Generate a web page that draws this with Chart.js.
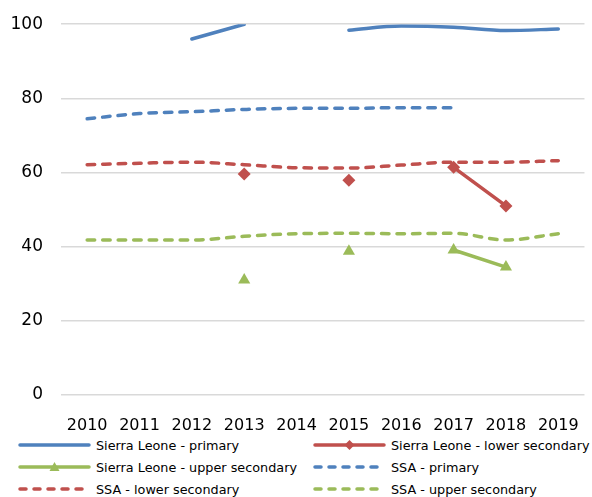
<!DOCTYPE html>
<html lang="en">
<head>
<meta charset="UTF-8">
<title>Sierra Leone vs SSA</title>
<style>
  body { margin: 0; background: #fff; }
  #wrap { position: relative; width: 592px; height: 497px; overflow: hidden; }
  #box { position: absolute; left: 0; top: -4px; width: 592px; height: 437px; }
  .leg { position: absolute; font-family: "DejaVu Sans", sans-serif; font-size: 12.8px; color: #000; white-space: nowrap; display: flex; align-items: center; }
  .leg canvas { margin-right: 5px; }
</style>
</head>
<body>
<div id="wrap">
  <div id="box"><canvas id="myChart"></canvas></div>
  <div id="legend"></div>
</div>

<script src="https://cdn.jsdelivr.net/npm/chart.js"></script>
<script>
  // data
  let v_years = ["2010", "2011", "2012", "2013", "2014", "2015", "2016", "2017", "2018", "2019"];

  let v_slPrimary = [null, null, 96.0, 100.0, null, 98.4, 99.5, 99.2, 98.3, 98.7];
  let v_slLower   = [null, null, null, 59.6, null, 57.9, null, 61.4, 51.0, null];
  let v_slUpper   = [null, null, null, 31.0, null, 38.8, null, 39.1, 34.5, null];
  let v_ssaPrimary = [74.5, 75.9, 76.4, 77.0, 77.3, 77.3, 77.5, 77.5, null, null];
  let v_ssaLower   = [62.1, 62.5, 62.8, 62.1, 61.3, 61.2, 62.0, 62.8, 62.8, 63.2];
  let v_ssaUpper   = [41.8, 41.8, 41.8, 42.8, 43.5, 43.6, 43.5, 43.6, 41.8, 43.5];

  const blue = "#4F81BD";
  const red = "#C0504D";
  const green = "#9BBB59";
  const dash = [7.5, 8];

  let v_datasets = [
    { label: "Sierra Leone - primary", data: v_slPrimary, borderColor: blue, backgroundColor: blue,
      pointRadius: 0, cubicInterpolationMode: "monotone" },
    { label: "Sierra Leone - lower secondary", data: v_slLower, borderColor: red, backgroundColor: red,
      pointStyle: "rectRot", pointRadius: 6.5, tension: 0 },
    { label: "Sierra Leone - upper secondary", data: v_slUpper, borderColor: green, backgroundColor: green,
      pointStyle: "triangle", pointRadius: 7, tension: 0 },
    { label: "SSA - primary", data: v_ssaPrimary, borderColor: blue, backgroundColor: blue,
      borderDash: dash, pointRadius: 0, cubicInterpolationMode: "monotone" },
    { label: "SSA - lower secondary", data: v_ssaLower, borderColor: red, backgroundColor: red,
      borderDash: dash, pointRadius: 0, cubicInterpolationMode: "monotone" },
    { label: "SSA - upper secondary", data: v_ssaUpper, borderColor: green, backgroundColor: green,
      borderDash: dash, pointRadius: 0, cubicInterpolationMode: "monotone" }
  ];

  for (let i = 0; i < v_datasets.length; i++) {
    v_datasets[i].borderWidth = 3.5;
    v_datasets[i].borderCapStyle = "round";
    v_datasets[i].pointBorderWidth = 0;
    v_datasets[i].fill = false;
  }

  const ctx = document.getElementById("myChart");

  let chart = new Chart(ctx, {
    type: "line",
    data: { labels: v_years, datasets: v_datasets },
    options: {
      responsive: true,
      maintainAspectRatio: false,
      animation: false,
      layout: { padding: { left: 10, right: 6, top: 15, bottom: 0 } },
      plugins: {
        legend: { display: false },
        tooltip: { enabled: false }
      },
      scales: {
        x: {
          offset: true,
          grid: { display: false },
          border: { display: false },
          ticks: { color: "#000", padding: 13, font: { family: "DejaVu Sans", size: 16 } },
          afterFit: function (scale) { scale.height = 38; }
        },
        y: {
          min: 0,
          max: 100,
          grid: { color: "#D9D9D9", lineWidth: 1.5, drawTicks: false },
          border: { display: false },
          ticks: { stepSize: 20, color: "#000", padding: 18, font: { family: "DejaVu Sans", size: 17 } },
          afterFit: function (scale) { scale.width = 51; }
        }
      }
    }
  });

  // two-column legend under the chart
  let v_legPos = [[18, 445], [313, 445], [18, 467], [313, 467], [18, 489], [313, 489]];
  let legDiv = document.getElementById("legend");
  for (let i = 0; i < v_datasets.length; i++) {
    let d = v_datasets[i];
    let item = document.createElement("div");
    item.className = "leg";
    item.style.left = v_legPos[i][0] + "px";
    item.style.top = (v_legPos[i][1] - 8) + "px";
    item.style.height = "16px";

    let c = document.createElement("canvas");
    c.width = 73; c.height = 16;
    let g = c.getContext("2d");
    g.strokeStyle = d.borderColor;
    g.lineWidth = 3.5;
    g.lineCap = "round";
    if (d.borderDash) g.setLineDash([6, 8]);
    g.beginPath(); g.moveTo(2, 8); g.lineTo(71, 8); g.stroke();
    g.fillStyle = d.borderColor;
    if (d.pointStyle == "rectRot") {
      g.beginPath(); g.moveTo(36.5, 3); g.lineTo(41.5, 8); g.lineTo(36.5, 13); g.lineTo(31.5, 8); g.closePath(); g.fill();
    } else if (d.pointStyle == "triangle") {
      g.beginPath(); g.moveTo(36.5, 3); g.lineTo(41.5, 12); g.lineTo(31.5, 12); g.closePath(); g.fill();
    }
    item.appendChild(c);

    let t = document.createElement("span");
    t.textContent = d.label;
    item.appendChild(t);
    legDiv.appendChild(item);
  }
</script>
</body>
</html>
